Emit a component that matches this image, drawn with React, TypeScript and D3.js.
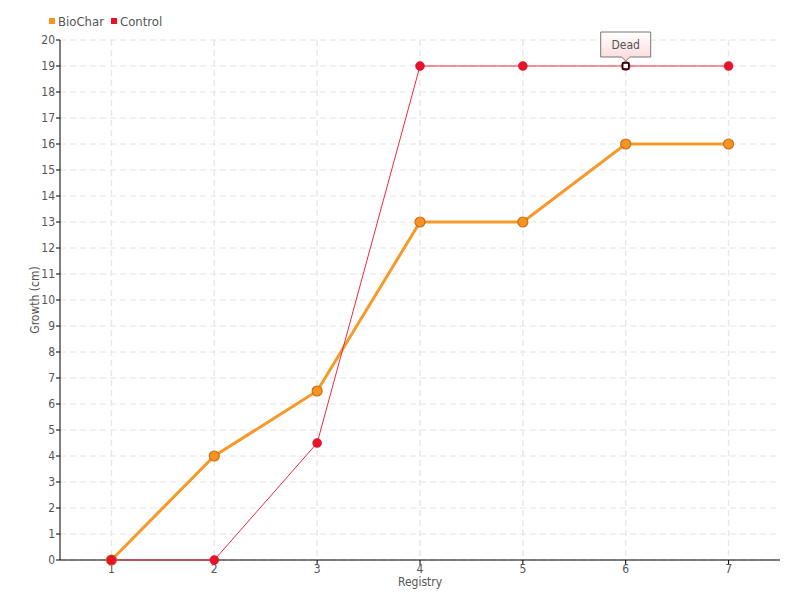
import React from "react";
import * as d3 from "d3";

const registry = [1, 2, 3, 4, 5, 6, 7];
const bioChar = [0, 4, 6.5, 13, 13, 16, 16];
const control = [0, 0, 4.5, 19, 19, 19, 19];
const yTicks = d3.range(0, 21);
const seriesNames = ["BioChar", "Control"];
const noteIndex = 5;
const noteText = "Dead";

const W = 800, H = 600;
const M = { left: 60, right: 20, top: 40, bottom: 40 };
const FONT = "'DejaVu Sans', sans-serif";

export default function App() {
  const x = d3.scaleLinear().domain([0.5, 7.5]).range([M.left, W - M.right]);
  const y = d3.scaleLinear().domain([0, 20]).range([H - M.bottom, M.top]);
  const line = d3.line<number>().x((_, i) => x(registry[i])).y((d) => y(d));
  const nx = x(registry[noteIndex]);
  const ny = y(control[noteIndex]);
  return (
    <svg width={W} height={H} style={{ position: "absolute", left: 0, top: 0, fontFamily: FONT, fontStretch: "condensed" }}>
      <defs>
        <linearGradient id="tipg" x1="0" y1="0" x2="0" y2="1">
          <stop offset="0" stopColor="#ffffff" />
          <stop offset="1" stopColor="#fdd8d8" />
        </linearGradient>
      </defs>
      <rect width={W} height={H} fill="#fff" />
      {/* grid */}
      {yTicks.map((t) => (
        <line key={"gy" + t} x1={M.left} x2={W - M.right} y1={y(t)} y2={y(t)} stroke="#e4e4e4" strokeDasharray="6,4" />
      ))}
      {registry.map((t) => (
        <line key={"gx" + t} x1={x(t)} x2={x(t)} y1={M.top} y2={H - M.bottom} stroke="#e8e8e8" strokeDasharray="6,4" strokeWidth={1.5} />
      ))}
      {/* axes */}
      <line x1={M.left} x2={M.left} y1={M.top} y2={H - M.bottom} stroke="#000" />
      <line x1={M.left} x2={W - M.right} y1={H - M.bottom} y2={H - M.bottom} stroke="#000" />
      {yTicks.map((t) => (
        <g key={"ty" + t}>
          <line x1={M.left - 4} x2={M.left} y1={y(t)} y2={y(t)} stroke="#000" />
          <text x={M.left - 5} y={y(t)} dy="0.35em" textAnchor="end" fontSize={12} fill="#555">{t}</text>
        </g>
      ))}
      {registry.map((t) => (
        <g key={"tx" + t}>
          <line x1={x(t)} x2={x(t)} y1={H - M.bottom} y2={H - M.bottom + 5} stroke="#000" />
          <text x={x(t)} y={H - M.bottom + 13} textAnchor="middle" fontSize={12} fill="#555">{t}</text>
        </g>
      ))}
      <text x={(M.left + W - M.right) / 2} y={H - 14} textAnchor="middle" fontSize={12} fill="#555">Registry</text>
      <text transform={`translate(39,${(M.top + H - M.bottom) / 2}) rotate(-90)`} textAnchor="middle" fontSize={12} fill="#555">Growth (cm)</text>
      {/* BioChar */}
      <path d={line(bioChar) || ""} fill="none" stroke="#f7931e" strokeWidth={3} strokeOpacity={0.95} />
      {bioChar.map((v, i) => (
        <circle key={"b" + i} cx={x(registry[i])} cy={y(v)} r={5} fill="#f7931e" stroke="#c8701a" strokeWidth={1.2} />
      ))}
      {/* Control */}
      <path d={line(control) || ""} fill="none" stroke="#f0283c" strokeWidth={1} />
      {control.map((v, i) => (
        <circle key={"c" + i} cx={x(registry[i])} cy={y(v)} r={4.5} fill="#e8132b" stroke="#d01028" strokeWidth={0.5} />
      ))}
      {/* note marker */}
      <rect x={nx - 3} y={ny - 3} width={6} height={6} fill="#fff" stroke="#000" strokeWidth={1.5} />
      <path
        d={`M${nx - 25},${ny - 34} H${nx + 25} V${ny - 9} H${nx + 4} L${nx},${ny - 5} L${nx - 4},${ny - 9} H${nx - 25} Z`}
        fill="url(#tipg)" stroke="#777" strokeWidth={1}
      />
      <text x={nx} y={ny - 21} dy="0.35em" textAnchor="middle" fontSize={12} fill="#555">{noteText}</text>
      {/* legend */}
      <rect x={49} y={18} width={6} height={6} fill="#f7931e" />
      <text x={58} y={21} dy="0.35em" fontSize={13} fill="#555">{seriesNames[0]}</text>
      <rect x={111} y={18} width={6} height={6} fill="#e8132b" />
      <text x={120} y={21} dy="0.35em" fontSize={13} fill="#555">{seriesNames[1]}</text>
    </svg>
  );
}
